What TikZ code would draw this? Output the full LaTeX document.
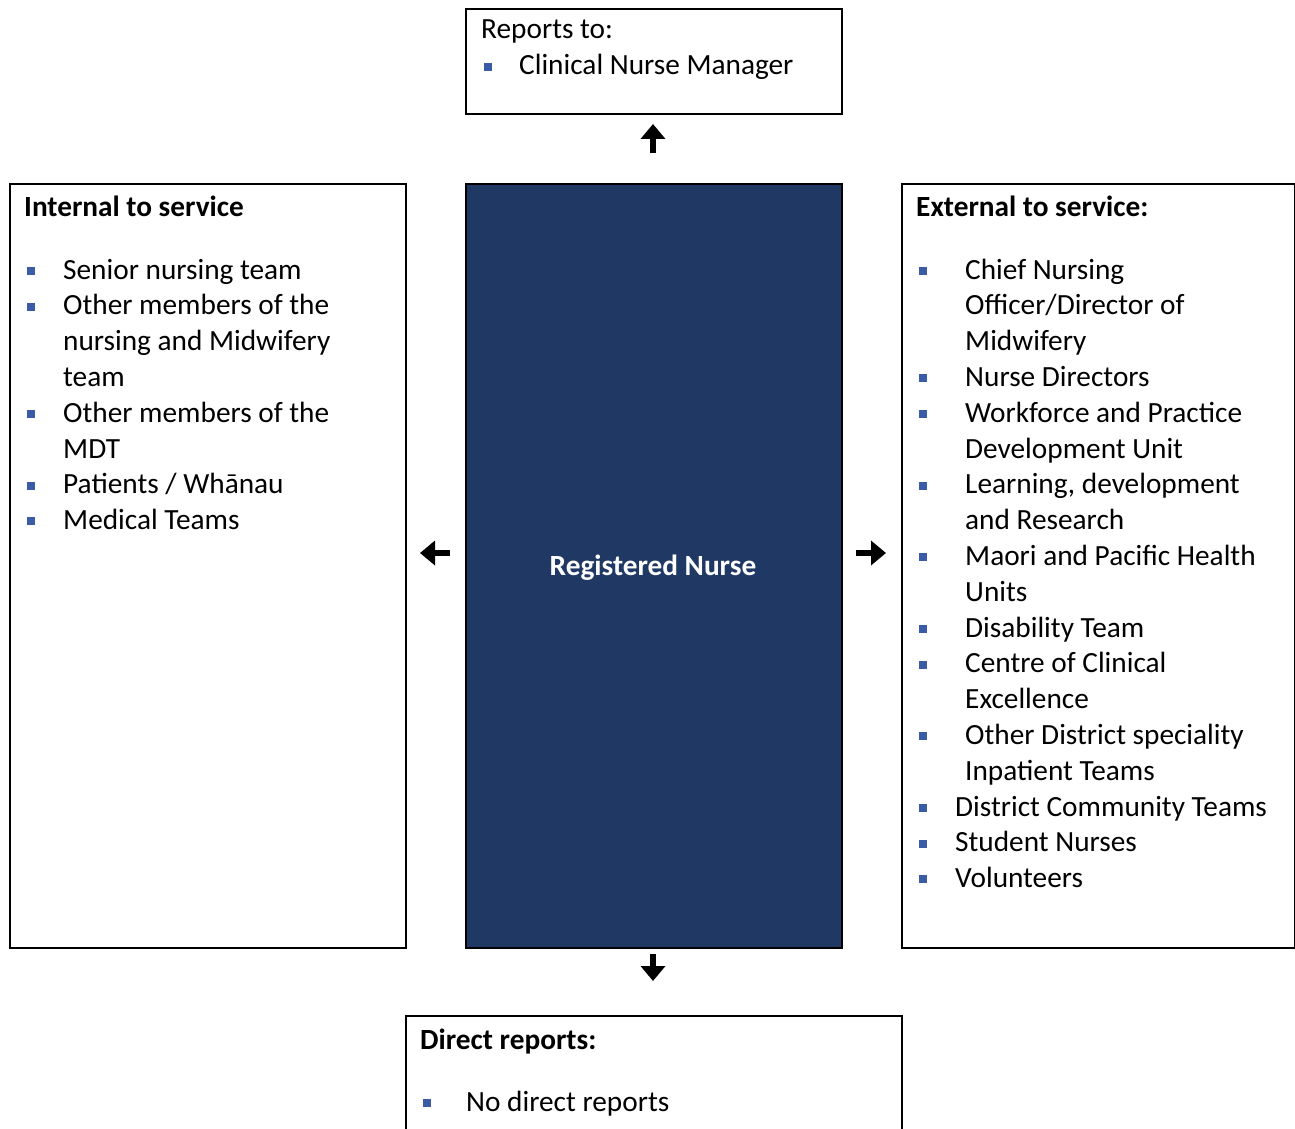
\documentclass[tikz,border=0pt]{standalone}
\usepackage{fontspec}
\setmainfont{Carlito}
\usetikzlibrary{arrows.meta}
\definecolor{navy}{HTML}{203864}
\definecolor{bulblue}{HTML}{3A5BA6}
\tikzset{
  x=1pt, y=-1pt,
  box/.style={draw=black, line width=2pt, rectangle, anchor=north west, inner sep=0pt},
  txt/.style={anchor=base west, inner sep=0pt, font=\fontsize{29.3}{35.8}\selectfont},
  hdr/.style={txt, font=\fontsize{29.3}{35.8}\selectfont\bfseries},
  bul/.style={rectangle, fill=bulblue, minimum size=8pt, inner sep=0pt, anchor=south west},
  bigarrow/.style={line width=6pt, -{Triangle[width=24pt,length=15pt]}}
}
\begin{document}
\begin{tikzpicture}
\useasboundingbox (0,0) rectangle (1295,1129);
% boxes
\node[box, minimum width=376pt, minimum height=105pt] (top) at (464.5,8.5) {};
\node[box, minimum width=396pt, minimum height=764pt] (left) at (8.5,182.5) {};
\node[box, fill=navy, minimum width=376pt, minimum height=764pt] (center) at (464.5,182.5) {};
\node[box, minimum width=393pt, minimum height=764pt] (right) at (900.5,182.5) {};
\node[box, minimum width=496pt, minimum height=130pt] (bottom) at (404.5,1014.5) {};
% center label
\node[font=\fontsize{29.3}{35.8}\selectfont\bfseries, text=white] (rn) at (653,568) {Registered Nurse};
% top text
\node[txt] (toph) at (481,39) {Reports to:};
\node[bul] (topb) at (484,70.8) {};
\node[txt] (topt) at (519,74.8) {Clinical Nurse Manager};
% left text
\node[hdr] (lefth) at (24,216) {Internal to service};
\foreach \y/\t [count=\i] in {279/{Senior nursing team}, 314.8/{Other members of the}, 350.6/{nursing and Midwifery}, 386.4/{team}, 422.2/{Other members of the}, 458/{MDT}, 493.8/{Patients {/} Whānau}, 529.6/{Medical Teams}}
  \node[txt] (lt\i) at (63,\y) {\t};
\foreach \y [count=\i] in {279, 314.8, 422.2, 493.8, 529.6}
  \node[bul] (lb\i) at (27,\y-4) {};
% right text
\node[hdr] (righth) at (916,216) {External to service:};
\foreach \y/\t [count=\i] in {279/{Chief Nursing}, 314.8/{Officer{/}Director of}, 350.6/{Midwifery}, 386.4/{Nurse Directors}, 422.2/{Workforce and Practice}, 458/{Development Unit}, 493.8/{Learning, development}, 529.6/{and Research}, 565.4/{Maori and Pacific Health}, 601.2/{Units}, 637/{Disability Team}, 672.8/{Centre of Clinical}, 708.6/{Excellence}, 744.4/{Other District speciality}, 780.2/{Inpatient Teams}}
  \node[txt] (rt\i) at (965,\y) {\t};
\foreach \y/\t [count=\i] in {816/{District Community Teams}, 851.8/{Student Nurses}, 887.6/{Volunteers}}
  \node[txt] (ru\i) at (955,\y) {\t};
\foreach \y [count=\i] in {279, 386.4, 422.2, 493.8, 565.4, 637, 672.8, 744.4, 816, 851.8, 887.6}
  \node[bul] (rb\i) at (919,\y-4) {};
% bottom text
\node[hdr] (both) at (420,1049) {Direct reports:};
\node[bul] (botb) at (423,1107) {};
\node[txt] (bott) at (466,1111) {No direct reports};
% arrows
\coordinate (upS) at (653,153); \coordinate (upE) at (653,124);
\coordinate (lS) at (450,553); \coordinate (lE) at (420,553);
\coordinate (rS) at (856,553); \coordinate (rE) at (886,553);
\coordinate (dS) at (653,954); \coordinate (dE) at (653,981);
\draw[bigarrow] (upS) -- (upE);
\draw[bigarrow] (lS) -- (lE);
\draw[bigarrow] (rS) -- (rE);
\draw[bigarrow] (dS) -- (dE);
\end{tikzpicture}
\end{document}
